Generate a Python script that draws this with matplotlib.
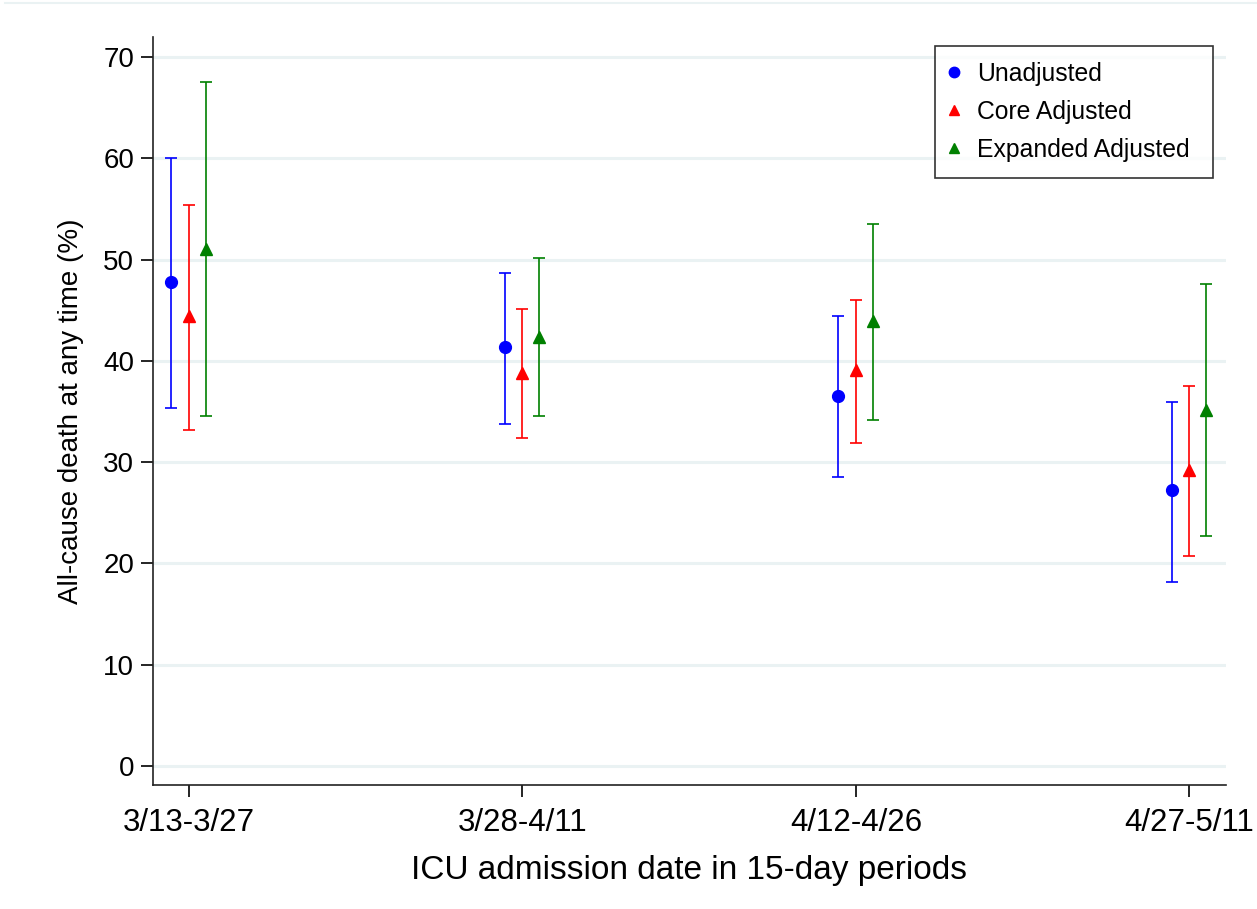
import matplotlib
matplotlib.use("Agg")
import matplotlib.pyplot as plt
from matplotlib.lines import Line2D

plt.rcParams['font.family'] = ['Liberation Sans', 'DejaVu Sans']

# data
periods = ["3/13-3/27", "3/28-4/11", "4/12-4/26", "4/27-5/11"]

unadj = [47.8, 41.4, 36.5, 27.2]
unadj_lo = [35.3, 33.8, 28.5, 18.2]
unadj_hi = [60.0, 48.7, 44.4, 35.9]

core = [44.4, 38.8, 39.1, 29.2]
core_lo = [33.2, 32.4, 31.9, 20.7]
core_hi = [55.4, 45.1, 46.0, 37.5]

expd = [51.1, 42.4, 43.9, 35.1]
expd_lo = [34.6, 34.6, 34.2, 22.7]
expd_hi = [67.6, 50.2, 53.5, 47.6]

series = [
    ("Unadjusted", unadj, unadj_lo, unadj_hi, "#0000ff", "o", -0.053),
    ("Core Adjusted", core, core_lo, core_hi, "#ff0000", "^", 0.0),
    ("Expanded Adjusted", expd, expd_lo, expd_hi, "#008000", "^", 0.05),
]

fig = plt.figure(figsize=(12.57, 9.09), dpi=100)
ax = fig.add_axes([0.1217, 0.1364, 0.8536, 0.8229])

handles = []
for name, vals, lo, hi, col, mk, off in series:
    xs = [i + 1 + off for i in range(len(vals))]
    err = [[v - l for v, l in zip(vals, lo)], [h - v for v, h in zip(vals, hi)]]
    ax.errorbar(xs, vals, yerr=err, fmt=mk, color=col, ecolor=col,
                markersize=8.5, elinewidth=1.2, capsize=4.5, capthick=1.2, zorder=3)
    handles.append(Line2D([], [], linestyle="none", marker=mk, color=col,
                          markersize=7.5, label=name))

ax.set_xlim(0.892, 4.11)
ax.set_ylim(-1.9, 72)
ax.set_yticks(range(0, 71, 10))
ax.set_xticks([1, 2, 3, 4])
ax.set_xticklabels(periods)

ax.grid(axis="y", color="#eaf2f3", linewidth=2.2, zorder=0)
ax.set_axisbelow(True)
for s in ["top", "right"]:
    ax.spines[s].set_visible(False)
for s in ["left", "bottom"]:
    ax.spines[s].set_linewidth(1.2)
    ax.spines[s].set_color("#222222")

ax.tick_params(axis="y", labelsize=20, length=8.6, width=1.2, pad=5)
ax.tick_params(axis="x", labelsize=22.5, length=8.6, width=1.2, pad=8)

ax.set_xlabel("ICU admission date in 15-day periods", fontsize=24, labelpad=12)
ax.set_ylabel("All-cause death at any time (%)", fontsize=20, labelpad=14)

# legend box spans a fixed width like the reference
leg = ax.legend(handles=handles, loc="upper left",
                bbox_to_anchor=(0.7288, 0.0, 0.2591, 0.988), mode="expand",
                borderaxespad=0, fontsize=17.8, frameon=True, fancybox=False,
                handlelength=0.2, handletextpad=0.85, labelspacing=0.56,
                borderpad=0.65)
leg.get_frame().set_edgecolor("black")
leg.get_frame().set_linewidth(1.2)

# faint outer border line at the top of the graph region
fig.add_artist(Line2D([0.004, 1.0], [0.997, 0.997], transform=fig.transFigure,
                      color="#eaf2f3", linewidth=1.5))

fig.savefig("out.png", dpi=100)
